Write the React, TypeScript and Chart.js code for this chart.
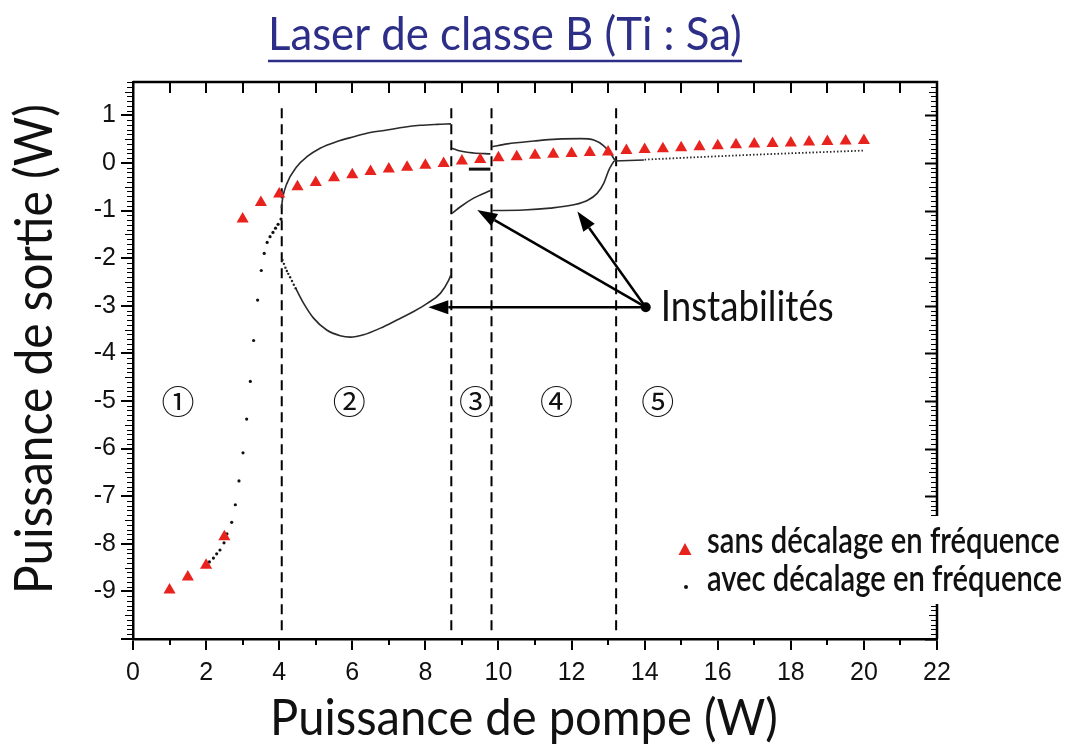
import React, { useEffect, useRef } from 'react';
import { Chart, registerables } from 'chart.js';

Chart.register(...registerables);

// ---------- data ----------
const xLabelValues = [0, 2, 4, 6, 8, 10, 12, 14, 16, 18, 20, 22];
const xMinorValues = [1, 3, 5, 7, 9, 11, 13, 15, 17, 19, 21];
const yTickValues = [-10, -9, -8, -7, -6, -5, -4, -3, -2, -1, 0, 1];

// "sans décalage en fréquence" (red triangles)
const sansPump = [1, 1.5, 2, 2.5, 3, 3.5, 4, 4.5, 5, 5.5, 6, 6.5, 7, 7.5, 8, 8.5, 9, 9.5, 10, 10.5, 11, 11.5, 12, 12.5, 13, 13.5, 14, 14.5, 15, 15.5, 16, 16.5, 17, 17.5, 18, 18.5, 19, 19.5, 20];
const sansPower = [-8.97, -8.7, -8.45, -7.85, -1.18, -0.83, -0.65, -0.5, -0.41, -0.31, -0.25, -0.18, -0.13, -0.09, -0.05, -0.01, 0.04, 0.07, 0.11, 0.13, 0.16, 0.18, 0.2, 0.22, 0.23, 0.26, 0.28, 0.3, 0.32, 0.34, 0.36, 0.38, 0.4, 0.41, 0.42, 0.44, 0.45, 0.46, 0.47];

// "avec décalage en fréquence" (black dots / curves)
const avecStablePump = [2.09, 2.2, 2.29, 2.38, 2.49, 2.57, 2.7, 2.8, 2.9, 3.01, 3.11, 3.21, 3.3, 3.41, 3.51, 3.59, 3.67, 3.75, 3.83, 3.9, 3.97, 4.05];
const avecStablePower = [-8.38, -8.3, -8.21, -8.13, -7.98, -7.79, -7.55, -7.18, -6.68, -6.09, -5.38, -4.59, -3.73, -2.88, -2.26, -1.9, -1.67, -1.55, -1.46, -1.37, -1.29, -1.18];

const z2UpperPump = [4.06, 4.1, 4.2, 4.48, 4.76, 5.12, 5.58, 6.04, 6.49, 6.95, 7.41, 7.86, 8.32, 8.7];
const z2UpperPower = [-0.95, -0.72, -0.45, -0.08, 0.13, 0.31, 0.45, 0.55, 0.64, 0.69, 0.75, 0.79, 0.81, 0.82];
const z2LowerDotsPump = [4.09, 4.13, 4.17, 4.21, 4.25, 4.3, 4.35, 4.4, 4.45];
const z2LowerDotsPower = [-2.04, -2.12, -2.2, -2.27, -2.33, -2.4, -2.48, -2.56, -2.63];
const z2LowerPump = [4.45, 4.67, 4.94, 5.3, 5.67, 5.95, 6.31, 6.77, 7.22, 7.68, 8.05, 8.41, 8.64, 8.7];
const z2LowerPower = [-2.63, -2.95, -3.26, -3.51, -3.63, -3.66, -3.61, -3.47, -3.3, -3.12, -2.95, -2.74, -2.46, -2.35];

const z3UpperPump = [8.73, 8.96, 9.32, 9.78];
const z3UpperPower = [0.31, 0.25, 0.21, 0.19];
const z3MidPump = [9.19, 9.78];
const z3MidPower = [-0.13, -0.13];
const z3LowerPump = [8.73, 8.96, 9.32, 9.78];
const z3LowerPower = [-1.06, -0.92, -0.74, -0.58];

const z4UpperPump = [9.83, 10.24, 10.97, 11.61, 12.25, 12.61, 12.88, 13.07, 13.18];
const z4UpperPower = [0.34, 0.4, 0.46, 0.5, 0.51, 0.48, 0.36, 0.2, 0.06];
const z4LowerPump = [9.83, 10.69, 11.42, 12.06, 12.43, 12.7, 12.88, 13.02, 13.16];
const z4LowerPower = [-1.0, -0.99, -0.95, -0.88, -0.79, -0.64, -0.43, -0.15, 0.04];

const z5SolidPump = [13.16, 13.98];
const z5SolidPower = [0.04, 0.06];
const z5DottedPump = [14.0, 16.6, 20.0];
const z5DottedPower = [0.07, 0.16, 0.26];

// zone boundaries (dashed verticals)
const boundaryPump = [4.07, 8.71, 9.81, 13.22];
const boundaryTop = 1.15;
const boundaryBottom = -9.9;

// zone labels
const zoneLabels = ['①', '②', '③', '④', '⑤'];
const zoneLabelPump = [1.23, 5.92, 9.37, 11.59, 14.36];
const zoneLabelPower = -5.02;

// annotation "Instabilités"
const instabSource = [14.03, -3.03];
const instabTipsPump = [8.08, 9.42, 12.16];
const instabTipsPower = [-3.03, -0.99, -1.02];

const titleText = 'Laser de classe B (Ti : Sa)';
const xTitleText = 'Puissance de pompe (W)';
const yTitleText = 'Puissance de sortie (W)';
const legendTexts = ['sans décalage en fréquence', 'avec décalage en fréquence'];

// ---------- helpers ----------
const zip = (xs: number[], ys: number[]) => xs.map((x, i) => ({ x, y: ys[i] }));

const TICK_FONT = "'Liberation Sans', Arial, sans-serif";
const SANS = "Lato, 'Open Sans', 'DejaVu Sans', sans-serif";

function fitFont(ctx: CanvasRenderingContext2D, text: string, weight: string, family: string, width: number) {
  ctx.font = `${weight} 100px ${family}`;
  const w = ctx.measureText(text).width;
  const size = (100 * width) / w;
  ctx.font = `${weight} ${size}px ${family}`;
  return size;
}

function stretchedText(ctx: CanvasRenderingContext2D, text: string, x: number, y: number, sy: number) {
  ctx.save();
  ctx.translate(x, y);
  ctx.scale(1, sy);
  ctx.fillText(text, 0, 0);
  ctx.restore();
}

function arrow(ctx: CanvasRenderingContext2D, x0: number, y0: number, x1: number, y1: number) {
  const ang = Math.atan2(y1 - y0, x1 - x0);
  const headLen = 20;
  const headHalf = 7;
  const bx = x1 - headLen * Math.cos(ang);
  const by = y1 - headLen * Math.sin(ang);
  ctx.beginPath();
  ctx.moveTo(x0, y0);
  ctx.lineTo(bx, by);
  ctx.stroke();
  ctx.beginPath();
  ctx.moveTo(x1, y1);
  ctx.lineTo(bx + headHalf * Math.sin(ang), by - headHalf * Math.cos(ang));
  ctx.lineTo(bx - headHalf * Math.sin(ang), by + headHalf * Math.cos(ang));
  ctx.closePath();
  ctx.fill();
}

const overlayPlugin = {
  id: 'overlay',
  afterDraw(chart: any) {
    const { ctx, chartArea: a } = chart;
    const xs = chart.scales.x;
    const ys = chart.scales.y;
    ctx.save();
    ctx.strokeStyle = '#000';
    ctx.fillStyle = '#000';

    // frame (top & right)
    ctx.lineWidth = 2.5;
    ctx.beginPath();
    ctx.moveTo(a.left, a.top);
    ctx.lineTo(a.right, a.top);
    ctx.lineTo(a.right, a.bottom);
    ctx.stroke();

    // top inward ticks
    ctx.lineWidth = 2;
    for (const v of [...xLabelValues, ...xMinorValues]) {
      const px = Math.round(xs.getPixelForValue(v));
      ctx.beginPath();
      ctx.moveTo(px, a.top);
      ctx.lineTo(px, a.top + 11);
      ctx.stroke();
    }
    // bottom minor outward ticks
    for (const v of xMinorValues) {
      const px = Math.round(xs.getPixelForValue(v));
      ctx.beginPath();
      ctx.moveTo(px, a.bottom);
      ctx.lineTo(px, a.bottom + 6);
      ctx.stroke();
    }
    // y minor ticks: left outward, right inward
    for (let i = -100; i <= 17; i++) {
      const py = Math.round(ys.getPixelForValue(i / 10)) + 0.5;
      const isMajor = i % 10 === 0;
      const len = isMajor ? 12 : Math.abs(i % 5) === 0 ? 8 : 6;
      ctx.lineWidth = isMajor ? 2 : 1.1;
      ctx.beginPath();
      if (!isMajor) {
        ctx.moveTo(a.left, py);
        ctx.lineTo(a.left - len, py);
      }
      ctx.moveTo(a.right, py);
      ctx.lineTo(a.right - len, py);
      ctx.stroke();
    }

    // zone labels
    ctx.fillStyle = '#111';
    ctx.font = "33px 'Noto Sans CJK JP', 'DejaVu Sans', sans-serif";
    ctx.textAlign = 'center';
    ctx.textBaseline = 'middle';
    zoneLabels.forEach((t, i) => {
      ctx.fillText(t, xs.getPixelForValue(zoneLabelPump[i]), ys.getPixelForValue(zoneLabelPower));
    });

    // arrows
    const sx = xs.getPixelForValue(instabSource[0]);
    const sy = ys.getPixelForValue(instabSource[1]);
    ctx.lineWidth = 2.5;
    ctx.strokeStyle = '#000';
    ctx.fillStyle = '#000';
    instabTipsPump.forEach((p, i) => {
      arrow(ctx, sx, sy, xs.getPixelForValue(p), ys.getPixelForValue(instabTipsPower[i]));
    });
    ctx.beginPath();
    ctx.arc(sx, sy, 5, 0, Math.PI * 2);
    ctx.fill();

    // "Instabilités"
    ctx.fillStyle = '#111';
    ctx.textAlign = 'left';
    ctx.textBaseline = 'alphabetic';
    fitFont(ctx, 'Instabilités', '400', SANS, 173);
    stretchedText(ctx, 'Instabilités', sx + 15, sy + 14, 1.18);

    // legend box + legend
    ctx.fillStyle = '#fff';
    ctx.fillRect(668, 516, 400, 88);
    ctx.fillStyle = '#111';
    fitFont(ctx, legendTexts[0], '600', SANS, 353);
    stretchedText(ctx, legendTexts[0], 707, 553, 1.22);
    stretchedText(ctx, legendTexts[1], 707, 591, 1.22);
    ctx.fillStyle = '#e8221d';
    ctx.beginPath();
    ctx.moveTo(685, 543);
    ctx.lineTo(691.5, 555);
    ctx.lineTo(678.5, 555);
    ctx.closePath();
    ctx.fill();
    ctx.fillStyle = '#111';
    ctx.beginPath();
    ctx.arc(686, 587, 2, 0, Math.PI * 2);
    ctx.fill();

    // title
    ctx.fillStyle = '#2c2e87';
    ctx.strokeStyle = '#2c2e87';
    ctx.textAlign = 'left';
    fitFont(ctx, titleText, '400', SANS, 474);
    stretchedText(ctx, titleText, 268, 50, 1.08);
    ctx.lineWidth = 2.5;
    ctx.beginPath();
    ctx.moveTo(268, 61);
    ctx.lineTo(742, 61);
    ctx.stroke();

    // axis titles
    ctx.fillStyle = '#111';
    ctx.textAlign = 'center';
    fitFont(ctx, xTitleText, '400', SANS, 508);
    stretchedText(ctx, xTitleText, 524, 735, 1.08);
    ctx.save();
    ctx.translate(52, 349);
    ctx.rotate(-Math.PI / 2);
    fitFont(ctx, yTitleText, '400', SANS, 490);
    ctx.scale(1, 1.08);
    ctx.fillText(yTitleText, 0, 0);
    ctx.restore();

    ctx.restore();
  },
};

export default function App() {
  const ref = useRef<HTMLCanvasElement | null>(null);

  useEffect(() => {
    if (!ref.current) return;
    const curve = (data: { x: number; y: number }[], extra: any = {}) => ({
      label: 'avec décalage en fréquence',
      data,
      showLine: true,
      borderColor: '#2a2a2a',
      borderWidth: 1.6,
      pointRadius: 0,
      cubicInterpolationMode: 'monotone',
      ...extra,
    });
    const datasets: any[] = [
      {
        label: 'sans décalage en fréquence',
        data: zip(sansPump, sansPower),
        pointStyle: 'triangle',
        pointRadius: 7,
        backgroundColor: '#e8221d',
        borderColor: '#e8221d',
        borderWidth: 0,
        showLine: false,
      },
      {
        label: 'avec décalage en fréquence',
        data: zip(avecStablePump, avecStablePower),
        pointRadius: 1.6,
        backgroundColor: '#111',
        borderWidth: 0,
        showLine: false,
      },
      {
        label: 'avec décalage en fréquence',
        data: zip(z2LowerDotsPump, z2LowerDotsPower),
        pointRadius: 1.2,
        backgroundColor: '#222',
        borderWidth: 0,
        showLine: false,
      },
      curve(zip(z2UpperPump, z2UpperPower)),
      curve(zip(z2LowerPump, z2LowerPower)),
      curve(zip(z3UpperPump, z3UpperPower)),
      curve(zip(z3MidPump, z3MidPower), { borderWidth: 3, borderColor: '#111' }),
      curve(zip(z3LowerPump, z3LowerPower)),
      curve(zip(z4UpperPump, z4UpperPower)),
      curve(zip(z4LowerPump, z4LowerPower)),
      curve(zip(z5SolidPump, z5SolidPower)),
      curve(zip(z5DottedPump, z5DottedPower), { borderDash: [1.5, 2], borderWidth: 1.8 }),
      ...boundaryPump.map((p) => ({
        label: 'limite',
        data: [
          { x: p, y: boundaryTop },
          { x: p, y: boundaryBottom },
        ],
        showLine: true,
        borderColor: '#000',
        borderWidth: 2,
        borderDash: [10, 6],
        pointRadius: 0,
      })),
    ];

    const chart = new Chart(ref.current, {
      type: 'scatter',
      data: { datasets },
      plugins: [overlayPlugin],
      options: {
        responsive: false,
        maintainAspectRatio: false,
        devicePixelRatio: 1,
        animation: false,
        layout: { padding: { top: 82, right: 131, left: 0, bottom: 0 } },
        plugins: {
          legend: { display: false },
          title: { display: false },
          tooltip: { enabled: false },
        },
        scales: {
          x: {
            type: 'linear',
            min: 0,
            max: 22,
            afterFit: (s: any) => {
              s.height = 108;
            },
            afterBuildTicks: (s: any) => {
              s.ticks = xLabelValues.map((v) => ({ value: v }));
            },
            ticks: {
              autoSkip: false,
              maxRotation: 0,
              padding: 8,
              color: '#111',
              font: { family: TICK_FONT, size: 25 },
              callback: (v: any) => String(v),
            },
            grid: { drawOnChartArea: false, drawTicks: true, tickLength: 11, color: '#000', lineWidth: 2 },
            border: { display: true, color: '#000', width: 2.5 },
          },
          y: {
            type: 'linear',
            min: -10,
            max: 1.7,
            afterFit: (s: any) => {
              s.width = 133;
            },
            afterBuildTicks: (s: any) => {
              s.ticks = yTickValues.map((v) => ({ value: v }));
            },
            ticks: {
              padding: 5,
              color: '#111',
              font: { family: TICK_FONT, size: 25 },
              callback: (v: any) => (Number(v) === -10 ? '' : String(v)),
            },
            grid: { drawOnChartArea: false, drawTicks: true, tickLength: 12, color: '#000', lineWidth: 2 },
            border: { display: true, color: '#000', width: 2.5 },
          },
        },
      } as any,
    });
    return () => chart.destroy();
  }, []);

  return (
    <div style={{ position: 'fixed', left: 0, top: 0, width: 1068, height: 747, background: '#fff' }}>
      <canvas ref={ref} width={1068} height={747} style={{ display: 'block' }} />
    </div>
  );
}
